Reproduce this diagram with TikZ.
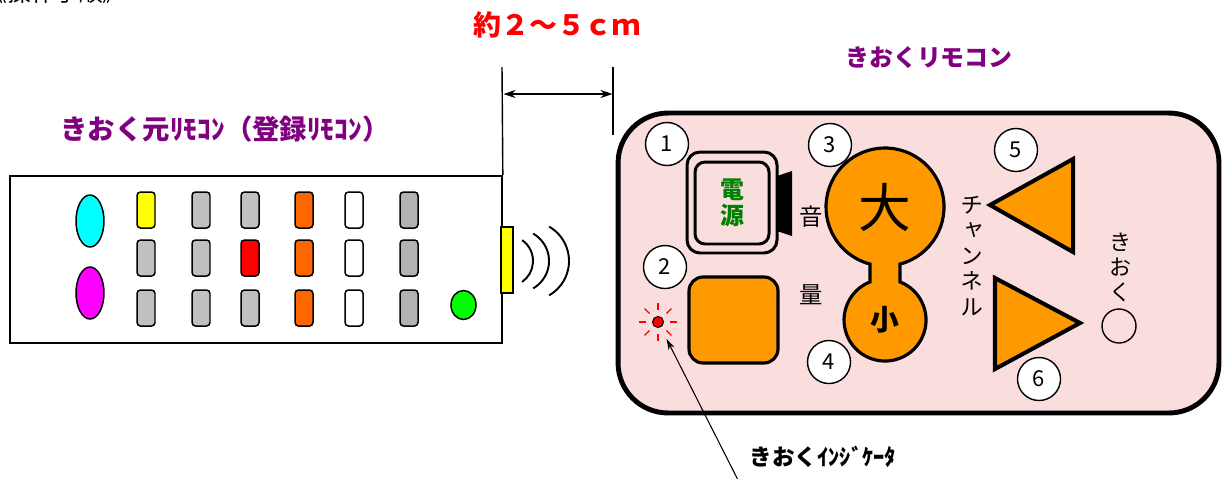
\documentclass[tikz,border=0pt]{standalone}
\usepackage{fontspec}
\setmainfont{Noto Sans CJK JP}
\newfontfamily\tatefont[RawFeature=+vert]{Noto Sans CJK JP}
\usetikzlibrary{shapes.geometric,arrows.meta}

\definecolor{bodypink}{RGB}{250,221,221}
\definecolor{btnorange}{RGB}{255,153,0}
\definecolor{keyorange}{RGB}{255,102,0}
\definecolor{keygray}{RGB}{192,192,192}
\definecolor{keydark}{RGB}{178,178,178}
\definecolor{keyyellow}{RGB}{255,255,0}
\definecolor{keyred}{RGB}{255,0,0}
\definecolor{ovalcyan}{RGB}{0,255,255}
\definecolor{ovalmagenta}{RGB}{255,0,255}
\definecolor{ovalgreen}{RGB}{0,255,0}
\definecolor{labelpurple}{RGB}{128,0,128}
\definecolor{textgreen}{RGB}{0,128,0}

\tikzset{
  key/.style={draw, line width=0.85pt, rounded corners=0.07cm,
    minimum width=0.36cm, minimum height=0.72cm, inner sep=0pt},
  oval/.style={ellipse, draw, line width=0.85pt, inner sep=0pt},
  numcirc/.style={circle, draw, fill=white, line width=0.8pt,
    minimum size=0.86cm, inner sep=0pt, font=\fontsize{12.5}{13}\selectfont},
  orangebtn/.style={draw, fill=btnorange, line width=1.8pt},
  title/.style={font=\bfseries\fontsize{15.6}{16}\selectfont,
    text=labelpurple, inner sep=0pt},
  dimline/.style={line width=0.8pt},
  wave/.style={line width=1.1pt},
}

\begin{document}
\begin{tikzpicture}[x=0.02cm, y=-0.02cm]
\useasboundingbox (0,0) rectangle (1222,478);
\clip (0,0) rectangle (1222,478);

% heading above, mostly off the page
\node[anchor=base east, font=\fontsize{13.6}{14}\selectfont] (heading) at (133,1) {《操作手順》};

% distance between the two remotes
\node[font=\bfseries\fontsize{15.9}{16}\selectfont, text=keyred] (distance) at (557,25) {約２～５ｃｍ};

% ---- sending remote ----
\node[title] (sendertitle) at (225,129) {きおく元ﾘﾓｺﾝ（登録ﾘﾓｺﾝ）};
\node[draw, line width=1pt, minimum width=9.84cm, minimum height=3.34cm] (sender) at (256,259.5) {};

\node[oval, fill=ovalcyan, minimum width=0.56cm, minimum height=1.04cm] (cyanbtn) at (90,221) {};
\node[oval, fill=ovalmagenta, minimum width=0.56cm, minimum height=1.04cm] (magentabtn) at (90,293) {};
\node[oval, fill=ovalgreen, minimum width=0.5cm, minimum height=0.58cm] (greenbtn) at (463.5,305) {};

% key columns, top to bottom
\foreach \x/\ca/\cb/\cc [count=\i] in {146/keyyellow/keygray/keygray, 201/keygray/keygray/keygray,
    250/keygray/keyred/keygray, 304/keyorange/keyorange/keyorange,
    354/white/white/white, 409/keydark/keydark/keydark}{
  \node[key, fill=\ca] (key\i-1) at (\x,210) {};
  \node[key, fill=\cb] (key\i-2) at (\x,258) {};
  \node[key, fill=\cc] (key\i-3) at (\x,308) {};
}

% emitter and signal
\node[draw, fill=keyyellow, line width=0.8pt, minimum width=0.24cm, minimum height=1.32cm, inner sep=0pt] (emitter) at (507,260) {};
\foreach \cx/\r/\a in {507.5/25.5/55, 517.4/31.6/60, 529.3/39.7/60}
  \draw[wave] (\cx,261) ++(-\a:\r) arc[start angle=-\a, end angle=\a, radius=\r];

% dimension
\coordinate (dimleft) at (502,67);
\coordinate (dimright) at (613,67);
\coordinate (dimrightend) at (613,135);
\coordinate (arrowl) at (503.5,94);
\coordinate (arrowr) at (612.5,94);
\draw[dimline] (dimleft) -- (sender.north east);
\draw[dimline] (dimright) -- (dimrightend);
\draw[dimline, {Stealth[length=0.24cm,width=0.16cm]}-{Stealth[length=0.24cm,width=0.16cm]}] (arrowl) -- (arrowr);

% ---- receiving remote ----
\node[title, font=\bfseries\fontsize{13.6}{14}\selectfont] (keepertitle) at (929,58) {きおくリモコン};
\node[draw, fill=bodypink, line width=2.8pt, rounded corners=1cm, minimum width=12.02cm, minimum height=6cm] (keeper) at (918.5,263) {};

% power key
\node[draw, line width=1.7pt, rounded corners=0.26cm, minimum width=1.8cm, minimum height=2.02cm] (power) at (732,202.5) {};
\node[draw, line width=1.7pt, rounded corners=0.2cm, minimum width=1.48cm, minimum height=1.64cm,
  align=center, text=textgreen, font=\bfseries\fontsize{13.6}{14.7}\selectfont] (powerkey) at (732,203) {電\\源};
\fill (777,176) -- (792,171) -- (792,236) -- (777,231) -- cycle;

\node[orangebtn, rounded corners=0.28cm, minimum width=1.78cm, minimum height=1.72cm] (squarekey) at (733.5,320) {};

% volume
\node[font=\fontsize{13.3}{14}\selectfont] (oto) at (811,217) {音};
\node[font=\fontsize{13.3}{14}\selectfont] (ryo) at (811,295) {量};
\coordinate (volbig) at (885,207);
\coordinate (volsmall) at (885,320);
\draw[orangebtn] (volbig) ++(75.3:59) arc[start angle=75.3, end angle=-255.3, radius=59]
  -- (870,281.9) arc[start angle=248.5, end angle=-68.5, radius=41] -- cycle;
\node[font=\fontsize{30}{30}\selectfont] (volup) at (volbig) {大};
\node[font=\bfseries\fontsize{16.4}{17}\selectfont] (voldown) at (volsmall) {小};

% channel
\draw[orangebtn, line width=2.3pt, line join=miter] (990,205) -- (1073,159) -- (1073,252) -- cycle;
\draw[orangebtn, line width=2.3pt, line join=miter] (995,278) -- (1080,323) -- (995,369) -- cycle;
\node[align=center, font=\tatefont\fontsize{13}{14.5}\selectfont] (channel) at (972,256) {チ\\ャ\\ン\\ネ\\ル};

% memory key
\node[align=center, font=\fontsize{12.5}{14.2}\selectfont] (kioku) at (1120,267) {き\\お\\く};
\node[circle, draw, line width=0.8pt, minimum size=0.68cm] (kiokukey) at (1119,326) {};

% numbered marks
\foreach \n/\x/\y in {1/667/144, 2/665/267, 3/830/145, 4/829/362, 5/1016/150, 6/1039/379}
  \node[numcirc] (num\n) at (\x,\y) {\n};

% indicator lamp
\node[circle, draw, fill=keyred, line width=0.6pt, minimum size=0.22cm, inner sep=0pt] (led) at (658,322) {};
\foreach \a in {0,45,...,315}
  \draw[keyred, line width=0.7pt] (led.center) ++(\a:12) -- ++(\a:7);

\coordinate (pointertail) at (739,482);
\draw[line width=0.6pt, -{Stealth[length=0.22cm,width=0.13cm]}, shorten >=0.26cm] (pointertail) -- (led);
\node[font=\bfseries\fontsize{12.8}{13}\selectfont] (ledlabel) at (823,457) {きおくｲﾝｼﾞｹｰﾀ};

\end{tikzpicture}
\end{document}
